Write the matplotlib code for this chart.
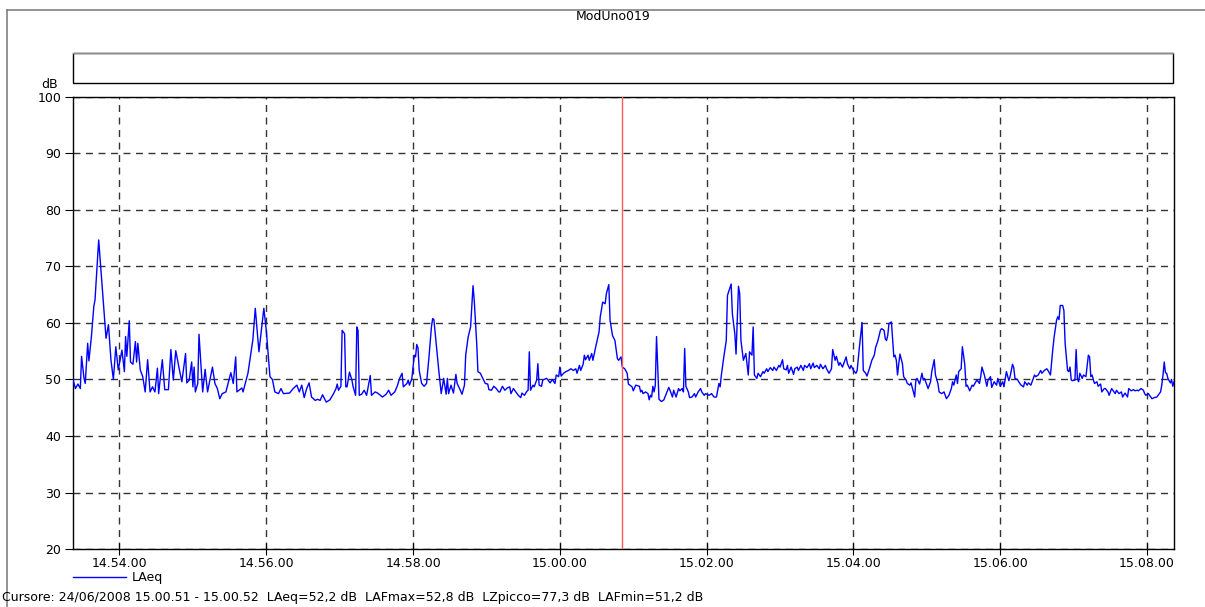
import matplotlib
matplotlib.use("Agg")
import matplotlib.pyplot as plt
from matplotlib.lines import Line2D
from matplotlib.patches import Rectangle

plt.rcParams['font.family'] = ['DejaVu Sans']
plt.rcParams['font.size'] = 9

# seconds relative to 14.54.00, LAeq in dB
offset_s = [
    -38, -36, -34, -32, -31, -29, -28, -26, -25, -23,
    -21, -20, -17, -14, -11, -9, -7, -5, -3, -1,
    2, 4, 5, 6, 8, 9, 11, 13, 14, 15,
    17, 19, 21, 23, 25, 27, 29, 31, 32, 35,
    37, 40, 42, 44, 46, 49, 51, 54, 55, 57,
    59, 60, 61, 62, 64, 65, 68, 70, 72, 74,
    76, 78, 80, 82, 84, 87, 91, 93, 95, 96,
    100, 101, 105, 109, 111, 114, 118, 120, 123, 125,
    127, 130, 132, 134, 139, 142, 145, 147, 149, 151,
    153, 155, 157, 160, 162, 164, 166, 169,
    172, 175, 177, 178, 179, 181, 182, 184, 185, 186,
    188, 190, 191, 193, 194, 195, 196, 198, 200, 202,
    205, 206, 209, 211, 215, 218, 220, 222, 225, 227,
    229, 231, 232, 235, 236, 237, 239, 241, 242, 243,
    244, 245, 247, 249, 251, 253, 255, 256, 257, 259,
    261, 263, 265, 267, 268, 269, 271, 273, 275, 276,
    278, 280, 282, 283, 285, 287, 289, 290, 292, 293,
    295, 297, 299, 301, 302, 304, 306, 308, 310, 311,
    313, 315, 317, 319, 320, 322, 325, 326, 328, 329,
    331, 333, 334, 335, 336, 338, 339, 341, 342, 343,
    345, 346, 349, 350, 352, 354, 356, 357, 359, 360,
    361, 363, 365, 367, 369, 371, 373, 374, 376, 377,
    379, 380, 381, 383, 384, 386, 387, 389, 392, 393,
    395, 397, 398, 400, 401, 403, 405, 407, 408, 410,
    411, 413, 415, 416,
    419, 420, 422, 425, 426, 427, 428, 430, 432, 433,
    434, 435, 436, 437, 438, 439, 441, 443, 445, 447,
    449, 450, 452, 453, 455, 457, 458, 460, 461, 462,
    463, 465, 466, 468, 470, 471, 473, 475, 476, 478,
    479, 482, 484, 486, 488, 490, 491, 492, 494, 496,
    497, 500, 501, 503, 504, 506, 507, 508, 510, 512,
    514, 515, 517, 518, 519, 521, 522, 524, 526, 527,
    529, 530, 532, 534, 535, 537, 539, 540, 542, 543,
    545, 546, 547, 549, 551, 552, 554, 555, 557, 559,
    560, 562, 564, 565, 567, 568, 570, 572, 573, 575,
    577, 578, 580, 582, 583, 585, 586, 588, 589, 591,
    592, 594, 595, 597, 598, 600, 602, 603, 605, 607,
    608, 610, 611, 613, 615, 617, 618, 620, 622, 623,
    625, 626, 627, 628, 629, 631, 633, 634, 635, 636,
    637,
    638, 640, 641, 643, 644, 646, 647, 649, 650, 651,
    652, 654, 656, 657, 658, 660, 661, 663, 664, 666,
    667, 669, 670, 672, 674, 675, 676, 678, 680, 681,
    682, 684, 685, 686, 688, 689, 691, 692, 693, 695,
    697, 698, 700, 701, 703, 704, 705, 707, 709, 710,
    712, 713, 715, 717, 718, 720, 722, 723, 724, 725,
    727, 728, 730, 731, 732, 734, 735, 737, 739, 740,
    742, 743, 745, 746, 748, 749, 751, 753, 754, 756,
    758, 759, 761, 763, 764, 766, 767, 768, 769, 771,
    772, 773, 775, 776, 777, 778, 779, 781, 782, 783,
    784, 785, 787, 788, 790, 792, 793, 794, 795, 797,
    799, 800, 802, 803, 805, 806, 808, 809, 811, 812,
    814, 815, 817, 819, 820, 822, 824, 825, 827, 829,
    830, 832, 833, 835, 837, 838, 839, 841, 843, 844,
    846, 848, 849, 851, 852, 853, 854, 855, 856, 857,
    859, 860, 861, 862,
]

laeq = [
    50.0, 48.4, 49.2, 48.4, 54.1, 50.2, 49.3, 56.4, 53.3, 57.5,
    62.9, 64.1, 74.7, 65.9, 57.3, 59.7, 53.5, 50.0, 55.8, 51.7,
    55.2, 51.4, 57.6, 54.1, 60.4, 53.1, 52.7, 56.7, 53.1, 56.4,
    51.7, 50.5, 47.8, 53.5, 47.8, 48.7, 47.8, 52.0, 47.5, 53.5,
    48.2, 48.2, 55.3, 49.9, 55.1, 51.7, 49.6, 54.6, 49.4, 49.9,
    53.1, 48.7, 52.2, 47.8, 49.3, 58.0, 47.8, 51.8, 47.8, 50.0,
    52.2, 49.3, 48.4, 46.6, 47.5, 47.8, 51.2, 49.3, 54.0, 47.8,
    48.5, 47.8, 51.1, 57.0, 62.6, 54.9, 62.6, 58.7, 50.5, 50.0,
    47.8, 47.5, 48.4, 47.5, 47.6, 48.4, 49.0, 47.8, 49.0, 46.8,
    48.4, 49.4, 46.9, 46.3, 46.5, 46.3, 47.3, 46.0,
    46.4, 47.5, 48.4, 49.2, 48.1, 48.8, 58.7, 58.1, 48.7, 48.7,
    51.3, 49.9, 48.7, 47.2, 59.3, 58.7, 47.2, 47.4, 48.1, 47.2,
    50.7, 47.2, 47.8, 47.6, 46.9, 47.4, 48.1, 47.2, 47.8, 48.8,
    50.2, 51.1, 48.7, 49.3, 49.9, 49.0, 50.2, 54.3, 54.0, 56.2,
    55.6, 51.6, 49.3, 48.8, 49.3, 54.0, 59.3, 60.8, 60.6, 56.1,
    51.6, 47.5, 50.2, 47.4, 50.2, 47.5, 49.0, 47.6, 50.9, 49.3,
    48.4, 47.4, 49.0, 54.3, 57.5, 59.3, 66.6, 64.0, 56.4, 51.4,
    51.1, 50.2, 49.3, 49.2, 48.2, 48.1, 48.8, 48.4, 47.8, 47.8,
    48.8, 48.1, 48.5, 48.7, 47.5, 48.4, 47.5, 47.2, 46.8, 47.6,
    47.2, 47.9, 48.1, 54.9, 48.1, 49.0, 48.7, 49.9, 52.8, 49.0,
    48.8, 49.9, 50.2, 50.0, 49.4, 50.0, 49.3, 50.8, 50.5, 52.2,
    50.6, 51.1, 51.4, 51.6, 51.9, 51.6, 51.9, 51.1, 52.5, 51.6,
    52.7, 54.3, 53.5, 54.3, 53.4, 54.6, 53.4, 55.5, 58.4, 61.1,
    63.7, 63.4, 65.2, 66.8, 60.5, 57.8, 56.9, 53.7, 53.4, 54.0,
    52.2, 51.9, 51.1, 49.2,
    48.7, 48.0, 49.0, 48.8, 47.8, 48.1, 47.5, 47.8, 47.5, 46.4,
    47.2, 46.9, 48.8, 47.8, 49.0, 57.6, 46.5, 46.1, 46.4, 47.5,
    48.6, 48.1, 46.9, 48.1, 46.9, 48.4, 48.0, 48.4, 47.8, 55.5,
    48.8, 47.8, 46.8, 46.9, 47.5, 46.9, 47.8, 48.4, 47.8, 47.2,
    47.5, 47.2, 47.5, 46.9, 46.9, 49.3, 48.7, 50.8, 54.0, 56.9,
    64.9, 66.9, 61.6, 58.1, 54.5, 66.5, 65.2, 56.9, 53.4, 54.6,
    50.8, 54.9, 54.3, 59.3, 50.8, 50.2, 51.1, 50.5, 51.4, 51.1,
    51.9, 51.4, 52.1, 51.6, 52.2, 51.6, 52.5, 52.2, 53.5, 51.9,
    51.7, 52.5, 51.1, 52.2, 50.9, 51.9, 52.2, 51.6, 52.5, 51.6,
    52.5, 52.1, 52.8, 51.9, 52.9, 52.1, 52.5, 51.9, 52.7, 51.9,
    52.5, 51.9, 51.1, 51.9, 55.3, 53.4, 54.1, 52.5, 53.0, 52.2,
    52.8, 54.0, 52.8, 51.9, 52.5, 51.6, 51.1, 51.6, 56.1, 60.1,
    51.6, 51.1, 50.6, 51.9, 53.4, 54.3, 55.6, 56.9, 58.7, 59.0,
    58.7, 57.2, 56.9, 57.8, 59.9, 60.2, 54.0, 54.3, 53.4, 50.8,
    52.8,
    54.5, 52.8, 50.5, 49.9, 49.3, 49.0, 49.4, 47.8, 46.9, 49.9,
    50.2, 49.2, 51.1, 49.9, 50.2, 49.0, 48.4, 49.6, 51.4, 53.5,
    50.8, 49.3, 47.8, 47.5, 47.8, 47.2, 46.6, 47.2, 48.4, 49.6,
    49.0, 50.8, 49.3, 51.4, 51.9, 55.8, 52.6, 48.8, 49.0, 48.0,
    49.0, 48.8, 49.6, 49.9, 49.3, 50.5, 52.2, 50.8, 48.8, 49.9,
    50.5, 48.6, 49.6, 49.0, 50.2, 48.8, 49.6, 48.7, 50.0, 51.4,
    49.8, 50.5, 52.7, 52.1, 50.2, 50.0, 49.6, 49.0, 48.7, 49.6,
    49.0, 49.4, 49.0, 49.6, 50.8, 50.5, 50.8, 51.6, 51.1, 51.6,
    51.9, 51.6, 50.8, 55.5, 57.5, 60.5, 61.1, 60.6, 63.1, 63.1,
    62.2, 56.4, 51.6, 51.4, 52.2, 49.9, 49.8, 49.9, 55.3, 50.2,
    49.6, 51.1, 50.2, 50.8, 50.5, 54.3, 54.0, 50.5, 50.8, 49.3,
    49.6, 48.8, 49.2, 47.8, 48.4, 48.4, 47.8, 47.2, 48.4, 48.1,
    47.5, 48.1, 47.5, 47.8, 46.9, 47.6, 46.9, 48.4, 48.0, 48.2,
    48.0, 48.1, 48.0, 48.4, 48.1, 47.5, 47.2, 47.5, 46.9, 46.6,
    46.8, 46.9, 47.2, 47.8, 49.0, 50.8, 53.1, 51.2, 51.1, 50.2,
    49.4, 50.0, 48.8, 49.6,
]

tick_pos = [0, 120, 240, 360, 480, 600, 720, 840]
tick_labels = ['14.54.00', '14.56.00', '14.58.00', '15.00.00',
               '15.02.00', '15.04.00', '15.06.00', '15.08.00']
y_ticks = [20, 30, 40, 50, 60, 70, 80, 90, 100]
cursor_s = 411
cursor_text = ("Cursore: 24/06/2008 15.00.51 - 15.00.52  LAeq=52,2 dB  "
               "LAFmax=52,8 dB  LZpicco=77,3 dB  LAFmin=51,2 dB")

W, H = 1205, 607
fig = plt.figure(figsize=(W / 100, H / 100), dpi=100)
ax = fig.add_axes([73 / W, 1 - 549 / H, 1101 / W, 452 / H])

ax.plot(offset_s, laeq, color='#0000ff', lw=1.0, label='LAeq', zorder=3)
ax.axvline(cursor_s, color='#ff5a5a', lw=1.0, zorder=4)

ax.set_xlim(-38, 862)
ax.set_ylim(20, 100)
ax.set_xticks(tick_pos)
ax.set_xticklabels(tick_labels)
ax.set_yticks(y_ticks)
ax.grid(True, color='#333333', linestyle=(0, (5, 4)), linewidth=1.0)
ax.set_axisbelow(True)
ax.tick_params(axis='y', direction='out', length=5.8, width=0.8, pad=2.8)
ax.tick_params(axis='x', direction='inout', length=8, width=0.8, pad=1.5)
for s in ax.spines.values():
    s.set_linewidth(1.0)

ax.legend(loc='upper left', bbox_to_anchor=(73 / W, 1 - 571 / H),
          bbox_transform=fig.transFigure, frameon=False, handlelength=4.2,
          handletextpad=0.5, borderpad=0, borderaxespad=0)

# outer frame and empty header box
fig.add_artist(Line2D([7 / W, 7 / W], [0, 1 - 9.5 / H], color='#808080', lw=1.2))
fig.add_artist(Line2D([7 / W, 1], [1 - 9.5 / H, 1 - 9.5 / H], color='#808080', lw=1.2))
fig.add_artist(Rectangle((73 / W, 1 - 83 / H), 1100 / W, 30 / H, fill=False,
                         edgecolor='black', lw=1.0, transform=fig.transFigure))
fig.add_artist(Line2D([73 / W, 1173 / W], [1 - 53 / H, 1 - 53 / H], color='#909090', lw=1.0))

fig.text(613 / W, 1 - 17 / H, 'ModUno019', ha='center', va='center')
fig.text(50 / W, 1 - 85 / H, 'dB', ha='center', va='center')
fig.text(2 / W, 1 - 598 / H, cursor_text, ha='left', va='center')

fig.savefig('out.png', dpi=100)
